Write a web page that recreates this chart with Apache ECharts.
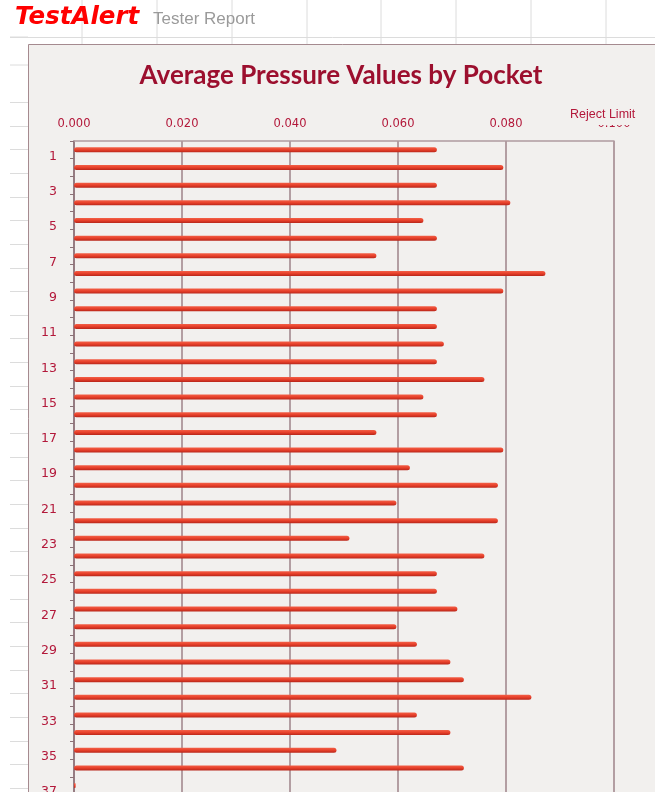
<!DOCTYPE html>
<html lang="en">
<head>
    <meta charset="UTF-8">
    <title>Average Pressure Values by Pocket</title>
    <script src="https://cdn.jsdelivr.net/npm/echarts@6.0.0/dist/echarts.min.js"></script>
    <style>
        body { margin: 0; background: #ffffff; overflow: hidden; }
        #main { width: 655px; height: 792px; }
    </style>
</head>
<body>
    <div id="main"></div>
    <script type="text/javascript">
        // pockets down the side (the sheet is cut off after 37)
        let pockets = ['1','2','3','4','5','6','7','8','9','10','11','12','13','14','15','16','17','18','19',
            '20','21','22','23','24','25','26','27','28','29','30','31','32','33','34','35','36','37','38'];
        // average pressure per pocket
        let avgPressure = [0.0672, 0.0795, 0.0672, 0.0808, 0.0647, 0.0672, 0.0560, 0.0873, 0.0795, 0.0672,
            0.0672, 0.0685, 0.0672, 0.0760, 0.0647, 0.0672, 0.0560, 0.0795, 0.0622, 0.0785,
            0.0597, 0.0785, 0.0510, 0.0760, 0.0672, 0.0672, 0.0710, 0.0597, 0.0635, 0.0697,
            0.0722, 0.0847, 0.0635, 0.0697, 0.0486, 0.0722, 0.0003];
        let axisMin = 0, axisMax = 0.1, axisStep = 0.02;

        let labelRed = '#b3183a';
        let frame = '#a58a8f';

        // spreadsheet grid behind the chart object
        let sheet = [];
        let cols = [82, 157, 232, 307, 381, 456, 531, 606];
        cols.forEach(x => sheet.push({ type: 'line', z: -20, silent: true, shape: { x1: x, y1: 0, x2: x, y2: 44 }, style: { stroke: '#dcdcdc', lineWidth: 1 } }));
        let rows = [37, 65];
        for (let y = 102; y < 792; y += 23.65) rows.push(Math.round(y) + 0.5);
        rows.forEach(y => sheet.push({ type: 'line', z: -20, silent: true, shape: { x1: 10, y1: y, x2: 28, y2: y }, style: { stroke: '#dcdcdc', lineWidth: 1 } }));
        sheet.push({ type: 'line', z: -20, silent: true, shape: { x1: 10, y1: 37.5, x2: 655, y2: 37.5 }, style: { stroke: '#dcdcdc', lineWidth: 1 } });

        let myChart = echarts.init(document.getElementById('main'));

        let options = {
            animation: false,
            backgroundColor: '#ffffff',
            title: {
                text: 'Average Pressure Values by Pocket',
                left: 336,
                top: 58,
                textAlign: 'center',
                textStyle: { fontFamily: 'Lato', fontWeight: 'bold', fontSize: 26, color: '#9c0f2e' }
            },
            grid: { left: 74, top: 141, width: 540, height: 38 * 17.66, outerBoundsMode: 'none', containLabel: false },
            xAxis: {
                type: 'value',
                position: 'top',
                min: axisMin,
                max: axisMax,
                interval: axisStep,
                axisLine: { show: true, lineStyle: { color: '#b09aa0', width: 1.5 } },
                axisTick: { show: false },
                axisLabel: {
                    margin: 11,
                    color: labelRed,
                    fontFamily: 'DejaVu Sans',
                    fontSize: 11.5,
                    formatter: v => v.toFixed(3)
                },
                splitLine: { show: true, lineStyle: { color: '#9e8388', width: 1.5 } }
            },
            yAxis: {
                type: 'category',
                inverse: true,
                data: pockets,
                axisLine: { show: true, lineStyle: { color: '#8c7177', width: 1.5 } },
                axisTick: { show: true, interval: 0, length: 4, lineStyle: { color: '#8c7177' } },
                axisLabel: {
                    interval: 1,
                    margin: 17,
                    color: labelRed,
                    fontFamily: 'DejaVu Sans',
                    fontSize: 12.5,
                    verticalAlign: 'top',
                    padding: [0, 0, 0, 0]
                }
            },
            series: [{
                name: 'Average Pressure',
                type: 'bar',
                data: avgPressure,
                barWidth: 5,
                itemStyle: {
                    borderRadius: 2.5,
                    color: new echarts.graphic.LinearGradient(0, 0, 0, 1, [
                        { offset: 0, color: '#f26048' },
                        { offset: 0.5, color: '#e8402a' },
                        { offset: 1, color: '#b8261a' }
                    ])
                }
            }],
            graphic: [
                ...sheet,
                {
                    type: 'rect', z: -5, silent: true,
                    shape: { x: 28.5, y: 44.5, width: 700, height: 800 },
                    style: { fill: '#f2f0ee', stroke: frame, lineWidth: 1 }
                },
                {
                    type: 'text', z: 100, left: 15, top: 5,
                    style: { text: 'TestAlert', fill: '#ff0000', font: 'italic 900 24.5px "DejaVu Sans"' }
                },
                {
                    type: 'text', z: 100, left: 153, top: 11,
                    style: { text: 'Tester Report', fill: '#9a9a9a', font: '17px "Liberation Sans"' }
                },
                {
                    type: 'text', z: 100, left: 569, top: 107,
                    style: {
                        text: 'Reject Limit', fill: labelRed, font: '12.5px "Liberation Sans"',
                        backgroundColor: '#f2f0ee', padding: [1, 1, 4, 1]
                    }
                }
            ]
        };

        myChart.setOption(options);
    </script>
</body>
</html>
